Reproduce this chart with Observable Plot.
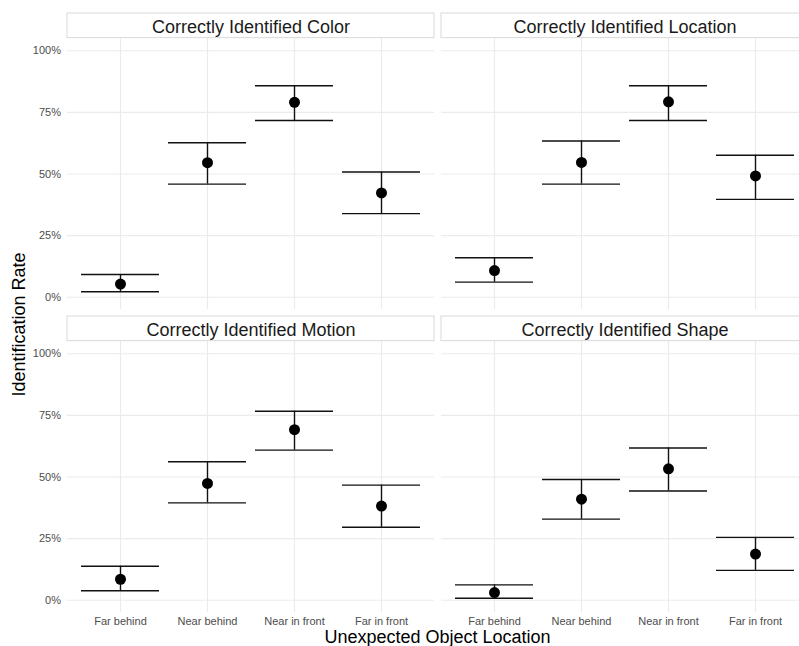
<!DOCTYPE html>
<html>
<head>
<meta charset="utf-8">
<script src="https://cdn.jsdelivr.net/npm/d3@7"></script>
<script src="https://cdn.jsdelivr.net/npm/@observablehq/plot@0.6"></script>
<style>
  html, body { margin: 0; padding: 0; background: #fff; overflow: hidden; }
  #chart { width: 799px; height: 646px; overflow: hidden; }
  #chart svg { display: block; max-width: none !important; }
</style>
</head>
<body>
<div id="chart"></div>
<script>
// Where the unexpected object appeared, in plotting order
const locations = ["Far behind", "Near behind", "Near in front", "Far in front"];

// One facet per identified feature (row-major: top-left, top-right, bottom-left, bottom-right)
const panelTitles = [
  "Correctly Identified Color",
  "Correctly Identified Location",
  "Correctly Identified Motion",
  "Correctly Identified Shape"
];

// Identification rates with lower / upper confidence limits, per location
const colorRate  = [0.053, 0.546, 0.791, 0.423];
const colorLow   = [0.022, 0.459, 0.717, 0.339];
const colorHigh  = [0.092, 0.627, 0.858, 0.508];

const locRate    = [0.108, 0.547, 0.793, 0.492];
const locLow     = [0.061, 0.459, 0.717, 0.397];
const locHigh    = [0.160, 0.634, 0.858, 0.576];

const motionRate = [0.085, 0.474, 0.692, 0.382];
const motionLow  = [0.038, 0.395, 0.609, 0.296];
const motionHigh = [0.138, 0.562, 0.767, 0.467];

const shapeRate  = [0.031, 0.410, 0.533, 0.187];
const shapeLow   = [0.008, 0.329, 0.443, 0.121];
const shapeHigh  = [0.062, 0.490, 0.618, 0.255];

const yTicks = [0, 0.25, 0.5, 0.75, 1];

const series = [
  [colorRate, colorLow, colorHigh],
  [locRate, locLow, locHigh],
  [motionRate, motionLow, motionHigh],
  [shapeRate, shapeLow, shapeHigh]
];

// Long table: one row per panel × location
const panels = panelTitles.map((title, p) => ({title, col: p % 2, row: Math.floor(p / 2)}));
const rows = [];
panels.forEach((panel, p) => {
  const [rate, low, high] = series[p];
  locations.forEach((loc, i) => {
    rows.push({col: panel.col, row: panel.row, loc, rate: rate[i], lower: low[i], upper: high[i]});
  });
});

// Layout
const W = 809, H = 646;
const mTop = 37.7, mBottom = 34.7, mLeft = 66, mRight = 0;
const fyPad = 0.107, fxPad = 0.0176;
const panelH = (H - mTop - mBottom) / (2 - fyPad) * (1 - fyPad);
const stripH = 25;
const font = "'Liberation Sans', Arial, Helvetica, sans-serif";

const chart = Plot.plot({
  width: W,
  height: H,
  marginTop: mTop,
  marginBottom: mBottom,
  marginLeft: mLeft,
  marginRight: mRight,
  style: {fontFamily: font, fontSize: "11px", color: "#4d4d4d", background: "white", maxWidth: "none"},
  fx: {axis: null, domain: [0, 1], paddingInner: fxPad, paddingOuter: 0},
  fy: {axis: null, domain: [0, 1], paddingInner: fyPad, paddingOuter: 0},
  x: {type: "band", domain: locations, paddingInner: 0.1, paddingOuter: 0.15, label: null},
  y: {domain: [-0.05, 1.05], label: null},
  marks: [
    // panel grid
    Plot.ruleY(yTicks, {y: d => d, stroke: "#ebebeb", strokeWidth: 1.1}),
    Plot.ruleX(locations, {x: d => d, stroke: "#ebebeb", strokeWidth: 1.1}),
    // axes (outer facets only)
    Plot.axisY(yTicks, {
      anchor: "left", tickSize: 0, tickPadding: 6.5, label: null,
      tickFormat: d => Math.round(d * 100) + "%", fill: "#4d4d4d", fontSize: 11
    }),
    Plot.axisX({anchor: "bottom", tickSize: 0, tickPadding: 5, label: null, fill: "#4d4d4d", fontSize: 11}),
    // strip boxes and titles above each panel
    Plot.rect(panels, {
      fx: "col", fy: "row",
      insetTop: -stripH, insetBottom: panelH + 0.8,
      fill: "white", stroke: "#d9d9d9", strokeWidth: 1
    }),
    Plot.text(panels, {
      fx: "col", fy: "row", text: "title",
      frameAnchor: "top", lineAnchor: "middle", dy: -11.6,
      fontSize: 18, fill: "#1a1a1a"
    }),
    // error bars
    Plot.ruleX(rows, {fx: "col", fy: "row", x: "loc", y1: "lower", y2: "upper", stroke: "#111", strokeWidth: 1.4}),
    Plot.tickY(rows, {fx: "col", fy: "row", x: "loc", y: "upper", stroke: "#111", strokeWidth: 1.4}),
    Plot.tickY(rows, {fx: "col", fy: "row", x: "loc", y: "lower", stroke: "#111", strokeWidth: 1.4}),
    // point estimates
    Plot.dot(rows, {fx: "col", fy: "row", x: "loc", y: "rate", r: 5.5, fill: "black", stroke: "none"})
  ]
});

// Shared axis titles
const svg = d3.select(chart);
svg.append("text")
  .attr("x", (mLeft + W - mRight) / 2)
  .attr("y", 643)
  .attr("text-anchor", "middle")
  .attr("fill", "black")
  .style("font-family", font)
  .style("font-size", "18px")
  .text("Unexpected Object Location");
svg.append("text")
  .attr("transform", `translate(25,${(mTop + H - mBottom) / 2}) rotate(-90)`)
  .attr("text-anchor", "middle")
  .attr("fill", "black")
  .style("font-family", font)
  .style("font-size", "18px")
  .text("Identification Rate");

document.getElementById("chart").appendChild(chart);
</script>
</body>
</html>
